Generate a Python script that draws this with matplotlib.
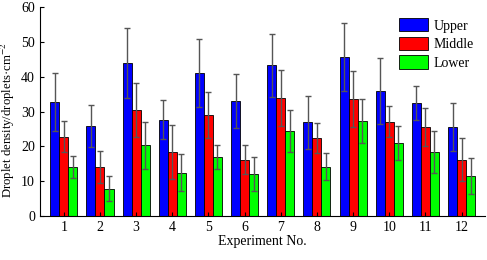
import numpy as np
import matplotlib
matplotlib.use("Agg")
from matplotlib import pyplot as plt

experiments = list(range(1, 13))
upper = [32.7, 25.9, 44.0, 27.6, 41.0, 33.0, 43.3, 26.9, 45.7, 36.0, 32.5, 25.6]
upper_err = [8.3, 6.0, 10.0, 5.6, 9.7, 7.8, 9.0, 7.7, 9.8, 9.5, 4.8, 6.9]
middle = [22.8, 14.1, 30.5, 18.3, 29.0, 16.2, 33.8, 22.3, 33.5, 27.1, 25.6, 16.2]
middle_err = [4.5, 4.5, 7.8, 7.8, 6.6, 4.1, 8.0, 4.3, 8.0, 4.5, 5.4, 6.2]
lower = [14.0, 7.9, 20.3, 12.5, 16.9, 12.0, 24.4, 14.2, 27.4, 20.9, 18.3, 11.5]
lower_err = [3.2, 3.5, 6.8, 5.4, 3.4, 4.9, 5.9, 3.8, 6.3, 4.9, 6.0, 5.2]

plt.rcParams["font.family"] = ["Liberation Serif", "DejaVu Serif"]
plt.rcParams["mathtext.fontset"] = "stix"
plt.rcParams["font.size"] = 10

fig = plt.figure(figsize=(4.87, 2.6), dpi=100)
ax = fig.add_axes([0.082, 0.169, 0.914, 0.804])

x = np.array(experiments)
w = 0.25
err_kw = dict(ecolor="#555555", elinewidth=1.0, capsize=2, capthick=1.0)
ax.bar(x - w, upper, w, yerr=upper_err, color="#0000ff", edgecolor="black",
       linewidth=0.6, label="Upper", error_kw=err_kw)
ax.bar(x, middle, w, yerr=middle_err, color="#ff0000", edgecolor="black",
       linewidth=0.6, label="Middle", error_kw=err_kw)
ax.bar(x + w, lower, w, yerr=lower_err, color="#00ff00", edgecolor="black",
       linewidth=0.6, label="Lower", error_kw=err_kw)

ax.set_xlim(0.34, 12.65)
ax.set_ylim(0, 60)
ax.set_xticks(x)
ax.set_yticks(range(0, 61, 10))
ax.tick_params(direction="in", length=3)
ax.spines["top"].set_visible(False)
ax.spines["right"].set_visible(False)
ax.set_xlabel("Experiment No.", labelpad=1)
ax.set_ylabel("Droplet density/droplets\u00b7cm$^{-2}$", fontsize=9.2)
ax.yaxis.set_label_coords(-0.052, 0.46)
ax.legend(loc="upper right", frameon=False, handlelength=2.1, handleheight=1.1,
          labelspacing=0.3, handletextpad=0.4, borderaxespad=0.4)

fig.savefig("out.png", dpi=100)
